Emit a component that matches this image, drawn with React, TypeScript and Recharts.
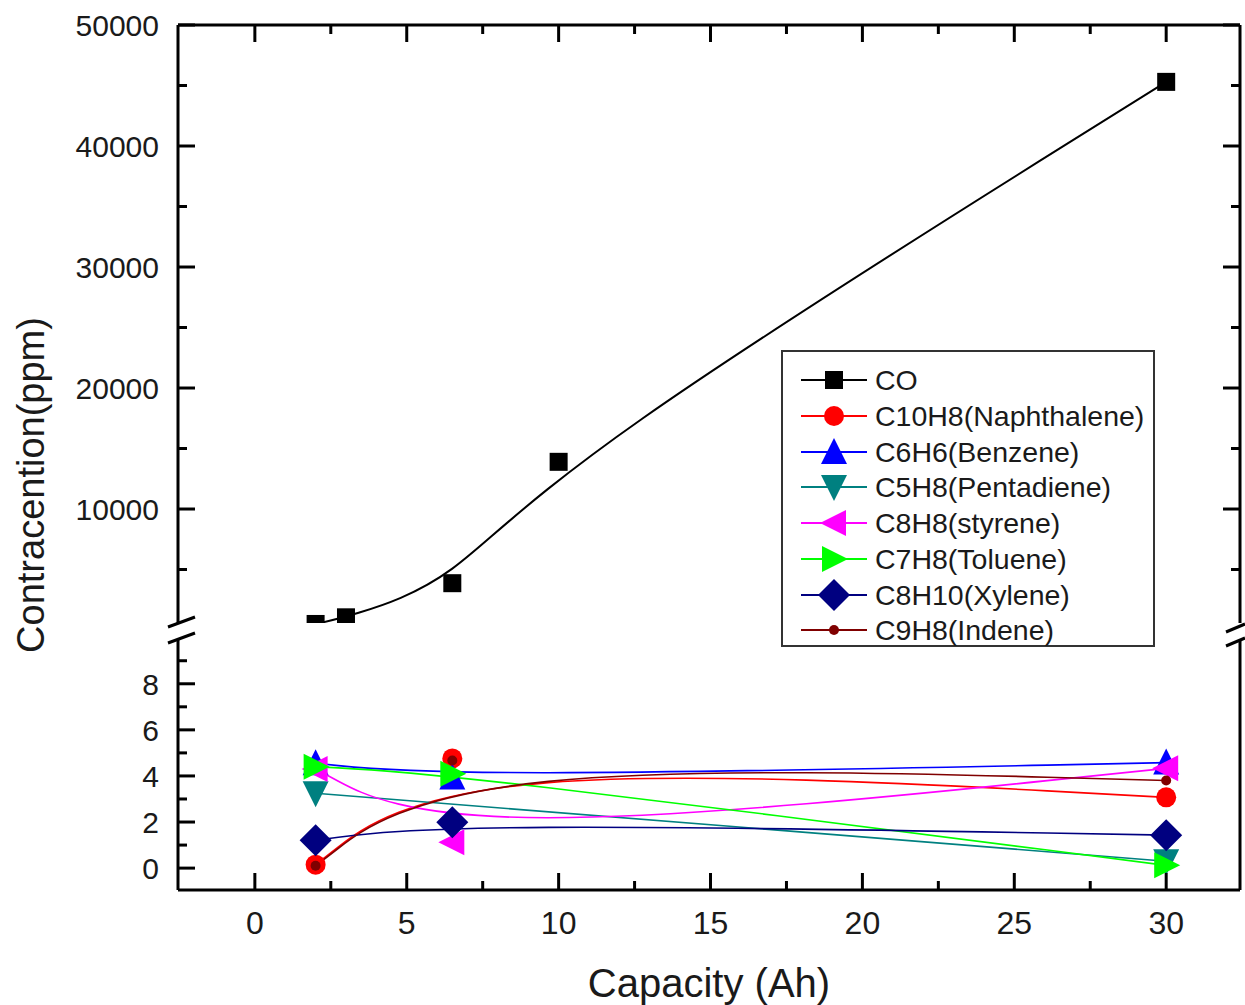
import React from "react";
import { LineChart, Line, XAxis, YAxis } from "recharts";

const FONT = '"Liberation Sans", Arial, sans-serif';

// x values (Ah)
const capacity = [2, 3, 6.5, 10, 30];

// upper panel
const coValues = [500, 1050, 3870, 13900, 45300];

// lower panel (null = no measurement at that capacity)
const naphthalene = [0.15, null, 4.76, null, 3.07];
const benzene = [4.55, null, 3.93, null, 4.58];
const pentadiene = [3.25, null, null, null, 0.3];
const styrene = [4.3, null, 1.12, null, 4.33];
const toluene = [4.4, null, 4.1, null, 0.12];
const xylene = [1.21, null, 1.99, null, 1.43];
const indene = [0.1, null, 4.67, null, 3.8];

const xMajorTicks = [0, 5, 10, 15, 20, 25, 30];
const xMinorTicks = [2.5, 7.5, 12.5, 17.5, 22.5, 27.5];
const upperMajorTicks = [10000, 20000, 30000, 40000, 50000];
const upperMinorTicks = [5000, 15000, 25000, 35000, 45000];
const lowerMajorTicks = [0, 2, 4, 6, 8];
const lowerMinorTicks = [1, 3, 5, 7, 9];

const X_DOMAIN: [number, number] = [-2.53, 32.43];
const UPPER_DOMAIN: [number, number] = [580, 50000];
const LOWER_DOMAIN: [number, number] = [-0.95, 9.9];

type Shape = "square" | "circle" | "up" | "down" | "left" | "right" | "diamond" | "dot";

const series: { key: string; name: string; color: string; shape: Shape; values: (number | null)[] }[] = [
  { key: "co", name: "CO", color: "#000000", shape: "square", values: coValues },
  { key: "naph", name: "C10H8(Naphthalene)", color: "#ff0000", shape: "circle", values: naphthalene },
  { key: "benz", name: "C6H6(Benzene)", color: "#0000ff", shape: "up", values: benzene },
  { key: "pent", name: "C5H8(Pentadiene)", color: "#008080", shape: "down", values: pentadiene },
  { key: "styr", name: "C8H8(styrene)", color: "#ff00ff", shape: "left", values: styrene },
  { key: "tol", name: "C7H8(Toluene)", color: "#00ff00", shape: "right", values: toluene },
  { key: "xyl", name: "C8H10(Xylene)", color: "#000080", shape: "diamond", values: xylene },
  { key: "ind", name: "C9H8(Indene)", color: "#800000", shape: "dot", values: indene },
];

const rows = capacity.map((c, i) => {
  const r: Record<string, number | null> = { capacity: c };
  series.forEach((s) => (r[s.key] = s.values[i]));
  return r;
});

const allX = [...xMajorTicks, ...xMinorTicks].sort((a, b) => a - b);
const upperTicks = [...upperMajorTicks, ...upperMinorTicks].sort((a, b) => a - b);
const lowerTicks = [...lowerMajorTicks, ...lowerMinorTicks].sort((a, b) => a - b);

function Marker({ cx, cy, shape, color }: { cx: number; cy: number; shape: Shape; color: string }) {
  switch (shape) {
    case "square":
      return <rect x={cx - 9} y={cy - 9} width={18} height={18} fill={color} />;
    case "circle":
      return <circle cx={cx} cy={cy} r={10} fill={color} />;
    case "up":
      return <polygon points={`${cx},${cy - 14} ${cx - 13},${cy + 12} ${cx + 13},${cy + 12}`} fill={color} />;
    case "down":
      return <polygon points={`${cx},${cy + 14} ${cx - 13},${cy - 12} ${cx + 13},${cy - 12}`} fill={color} />;
    case "left":
      return <polygon points={`${cx - 14},${cy} ${cx + 12},${cy - 13} ${cx + 12},${cy + 13}`} fill={color} />;
    case "right":
      return <polygon points={`${cx + 14},${cy} ${cx - 12},${cy - 13} ${cx - 12},${cy + 13}`} fill={color} />;
    case "diamond":
      return <polygon points={`${cx},${cy - 16} ${cx + 16},${cy} ${cx},${cy + 16} ${cx - 16},${cy}`} fill={color} />;
    default:
      return <circle cx={cx} cy={cy} r={5} fill={color} />;
  }
}

const makeDot = (shape: Shape, color: string) => (props: any) => {
  const { cx, cy, value, index } = props;
  if (value == null || cx == null || cy == null) return <g key={`e${index}`} />;
  return (
    <g key={`d${index}`}>
      <Marker cx={cx} cy={cy} shape={shape} color={color} />
    </g>
  );
};

// tick renderers: tickSize/tickMargin are 0 so (x, y) sit on the axis line
const yTick = (majors: number[], side: "left" | "right", labels: boolean) => (props: any) => {
  const { x, y, payload } = props;
  const major = majors.includes(payload.value);
  const len = major ? 17 : 9;
  const dir = side === "left" ? 1 : -1;
  return (
    <g>
      <line x1={x} x2={x + dir * len} y1={y} y2={y} stroke="#000" strokeWidth={3} />
      {labels && major && (
        <text x={x - 19} y={y + 11} textAnchor="end" fontSize={30} fontFamily={FONT} fill="#1a1a1a">
          {payload.value}
        </text>
      )}
    </g>
  );
};

const xTick = (side: "top" | "bottom", labels: boolean) => (props: any) => {
  const { x, y, payload } = props;
  const major = xMajorTicks.includes(payload.value);
  const len = major ? 17 : 9;
  const dir = side === "top" ? 1 : -1;
  return (
    <g>
      <line x1={x} x2={x} y1={y} y2={y + dir * len} stroke="#000" strokeWidth={3} />
      {labels && major && (
        <text x={x} y={y + 44} textAnchor="middle" fontSize={32} fontFamily={FONT} fill="#1a1a1a">
          {payload.value}
        </text>
      )}
    </g>
  );
};

const axisLine = { stroke: "#000", strokeWidth: 3 };

export default function App() {
  const upperSeries = series.filter((s) => s.key === "co");
  const lowerSeries = series.filter((s) => s.key !== "co");
  return (
    <div style={{ position: "absolute", left: 0, top: 0, width: 1245, height: 1005, background: "#fff", fontFamily: FONT }}>
      {/* upper panel: CO */}
      <div style={{ position: "absolute", left: 0, top: 0 }}>
        <LineChart width={1245} height={643} data={rows} margin={{ top: 0, right: 0, bottom: 20, left: 0 }}>
          <XAxis
            xAxisId="top"
            orientation="top"
            dataKey="capacity"
            type="number"
            domain={X_DOMAIN}
            ticks={allX}
            interval={0}
            height={25}
            tickSize={0}
            tickMargin={0}
            tickLine={false}
            axisLine={axisLine}
            tick={xTick("top", false)}
          />
          <YAxis
            yAxisId="left"
            type="number"
            domain={UPPER_DOMAIN}
            allowDataOverflow
            ticks={upperTicks}
            interval={0}
            width={178}
            tickSize={0}
            tickMargin={0}
            tickLine={false}
            axisLine={axisLine}
            tick={yTick(upperMajorTicks, "left", true)}
          />
          <YAxis
            yAxisId="right"
            orientation="right"
            type="number"
            domain={UPPER_DOMAIN}
            allowDataOverflow
            ticks={upperTicks}
            interval={0}
            width={5}
            tickSize={0}
            tickMargin={0}
            tickLine={false}
            axisLine={axisLine}
            tick={yTick(upperMajorTicks, "right", false)}
          />
          {upperSeries.map((s) => (
            <Line
              key={s.key}
              xAxisId="top"
              yAxisId="left"
              type="basis"
              dataKey={s.key}
              stroke={s.color}
              strokeWidth={2}
              dot={makeDot(s.shape, s.color)}
              activeDot={false}
              connectNulls
              isAnimationActive={false}
            />
          ))}
        </LineChart>
      </div>

      {/* lower panel: hydrocarbons */}
      <div style={{ position: "absolute", left: 0, top: 630 }}>
        <LineChart width={1245} height={375} data={rows} margin={{ top: 10, right: 0, bottom: 0, left: 0 }}>
          <XAxis
            dataKey="capacity"
            type="number"
            domain={X_DOMAIN}
            ticks={allX}
            interval={0}
            height={115}
            tickSize={0}
            tickMargin={0}
            tickLine={false}
            axisLine={axisLine}
            tick={xTick("bottom", true)}
            label={{ value: "Capacity (Ah)", position: "insideBottom", offset: 8, fontSize: 40, fill: "#1a1a1a", fontFamily: FONT }}
          />
          <YAxis
            yAxisId="left"
            type="number"
            domain={LOWER_DOMAIN}
            ticks={lowerTicks}
            interval={0}
            width={178}
            tickSize={0}
            tickMargin={0}
            tickLine={false}
            axisLine={axisLine}
            tick={yTick(lowerMajorTicks, "left", true)}
          />
          <YAxis
            yAxisId="right"
            orientation="right"
            type="number"
            domain={LOWER_DOMAIN}
            ticks={lowerTicks}
            interval={0}
            width={5}
            tickSize={0}
            tickMargin={0}
            tickLine={false}
            axisLine={axisLine}
            tick={yTick(lowerMajorTicks, "right", false)}
          />
          {lowerSeries.map((s) => (
            <Line
              key={s.key}
              yAxisId="left"
              type="basis"
              dataKey={s.key}
              stroke={s.color}
              strokeWidth={1.6}
              dot={makeDot(s.shape, s.color)}
              activeDot={false}
              connectNulls
              isAnimationActive={false}
            />
          ))}
        </LineChart>
      </div>

      {/* axis break marks + y title */}
      <svg width={1245} height={1005} style={{ position: "absolute", left: 0, top: 0, pointerEvents: "none" }}>
        <g stroke="#000" strokeWidth={3}>
          <line x1={168} y1={627} x2={195} y2={617} />
          <line x1={168} y1={643} x2={195} y2={633} />
          <line x1={1226} y1={632} x2={1245} y2={624} />
          <line x1={1226} y1={646} x2={1245} y2={638} />
        </g>
        <text
          x={44}
          y={485}
          transform="rotate(-90 44 485)"
          textAnchor="middle"
          fontSize={38}
          fontFamily={FONT}
          fill="#1a1a1a"
        >
          Contracention(ppm)
        </text>
      </svg>

      {/* legend */}
      <div
        style={{
          position: "absolute",
          left: 781,
          top: 350,
          width: 370,
          height: 283,
          border: "2px solid #333",
          background: "#fff",
          paddingTop: 10,
          boxSizing: "content-box",
        }}
      >
        {series.map((s) => (
          <div key={s.key} style={{ display: "flex", alignItems: "center", height: 35.8 }}>
            <svg width={92} height={36} style={{ flex: "none" }}>
              <line x1={18} x2={84} y1={18} y2={18} stroke={s.color} strokeWidth={2} />
              <Marker cx={51} cy={18} shape={s.shape} color={s.color} />
            </svg>
            <span style={{ fontSize: 28.5, color: "#1a1a1a", whiteSpace: "nowrap", lineHeight: "36px" }}>{s.name}</span>
          </div>
        ))}
      </div>
    </div>
  );
}
